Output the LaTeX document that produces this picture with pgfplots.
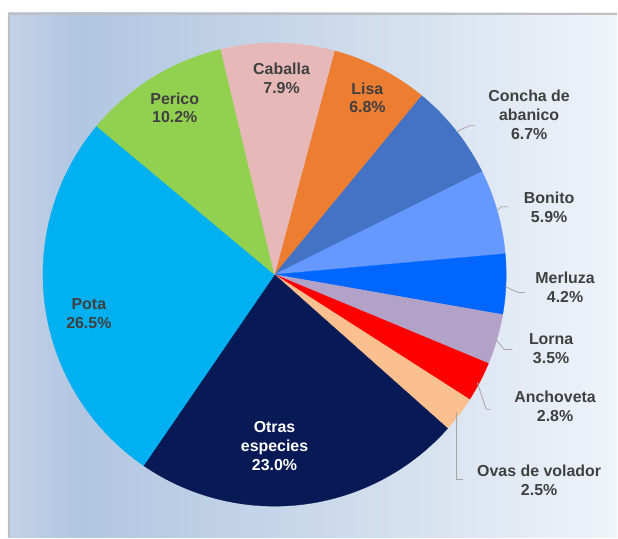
\documentclass[border=0pt]{standalone}
\usepackage{fontspec}
\setmainfont{Liberation Sans}
\usepackage{pgfplots}
\pgfplotsset{compat=1.18}

\definecolor{cLisa}{HTML}{ED7D31}
\definecolor{cConcha}{HTML}{4472C4}
\definecolor{cBonito}{HTML}{6699FF}
\definecolor{cMerluza}{HTML}{0066FF}
\definecolor{cLorna}{HTML}{B3A2C7}
\definecolor{cAnch}{HTML}{FF0000}
\definecolor{cOvas}{HTML}{FAC090}
\definecolor{cOtras}{HTML}{081A55}
\definecolor{cPota}{HTML}{00B0F0}
\definecolor{cPerico}{HTML}{92D050}
\definecolor{cCaballa}{HTML}{E6B9B8}
\definecolor{txt}{HTML}{404040}
\definecolor{leader}{HTML}{A6A6A6}
\definecolor{frame}{HTML}{BFBFBF}
\definecolor{bgA}{HTML}{C3D2E7}
\definecolor{bgB}{HTML}{B1C6E1}
\definecolor{bgC}{HTML}{CCDAEB}
\definecolor{bgD}{HTML}{F0F4FA}
\pgfdeclarehorizontalshading{bgshade}{100bp}{color(0bp)=(bgA); color(25bp)=(bgA); color(31bp)=(bgB); color(52bp)=(bgC); color(75bp)=(bgD); color(100bp)=(bgD)}

\begin{document}
\begin{tikzpicture}[lab/.style={font=\fontsize{16}{19}\selectfont\bfseries, text=txt, align=center, inner sep=0pt}]
\begin{axis}[width=618bp, height=538bp, scale only axis,
  xmin=0, xmax=618, ymin=0, ymax=538, hide axis, clip=false]
% background panel
\path (axis cs:0,0) rectangle (axis cs:618,538);
\shade[shading=bgshade] (axis cs:8,0) rectangle (axis cs:618,525);
\draw[frame, line width=2bp] (axis cs:9,0) -- (axis cs:9,524) -- (axis cs:618,524);
% pie slices (percent values), clockwise from 75 degrees
\pgfmathsetmacro\curang{75}
\global\let\curang\curang
\foreach \p/\cc in {6.8/cLisa, 6.7/cConcha, 5.9/cBonito, 4.2/cMerluza, 3.5/cLorna, 2.8/cAnch, 2.5/cOvas, 23.0/cOtras, 26.5/cPota, 10.2/cPerico, 7.9/cCaballa}{
  \pgfmathsetmacro\nextang{\curang-3.6*\p}
  \edef\doslice{\noexpand\addplot[fill=\cc, draw=\cc, line width=0.3bp, domain=\nextang:\curang, samples=90] ({275+232*cos(x)},{263+232*sin(x)}) -- (axis cs:275,263) -- cycle;}
  \doslice
  \global\let\curang\nextang
}
% leader lines
\draw[leader, line width=0.8bp] (axis cs:457,406) -- (axis cs:470,412) -- (axis cs:476,412);
\draw[leader, line width=0.8bp] (axis cs:497,326) -- (axis cs:502,331) -- (axis cs:509,331);
\draw[leader, line width=0.8bp] (axis cs:506,251) -- (axis cs:519,245) -- (axis cs:526,245);
\draw[leader, line width=0.8bp] (axis cs:495,200) -- (axis cs:505,188) -- (axis cs:513,188);
\draw[leader, line width=0.8bp] (axis cs:478,155) -- (axis cs:487,128) -- (axis cs:492,128);
\draw[leader, line width=0.8bp] (axis cs:457,125) -- (axis cs:457,58) -- (axis cs:464,58);
% labels
\node[lab] at (axis cs:282,460) {Caballa\\7.9\%};
\node[lab] at (axis cs:368,440) {Lisa\\6.8\%};
\node[lab] at (axis cs:175,430) {Perico\\10.2\%};
\node[lab] at (axis cs:530,423) {Concha de\\abanico\\6.7\%};
\node[lab] at (axis cs:550,330) {Bonito\\5.9\%};
\node[lab] at (axis cs:566,250) {Merluza\\4.2\%};
\node[lab] at (axis cs:552,189) {Lorna\\3.5\%};
\node[lab] at (axis cs:556,131) {Anchoveta\\2.8\%};
\node[lab] at (axis cs:540,57) {Ovas de volador\\2.5\%};
\node[lab] at (axis cs:89,224) {Pota\\26.5\%};
\node[lab, text=white] at (axis cs:275,91) {Otras\\especies\\23.0\%};
\end{axis}
\end{tikzpicture}
\end{document}
